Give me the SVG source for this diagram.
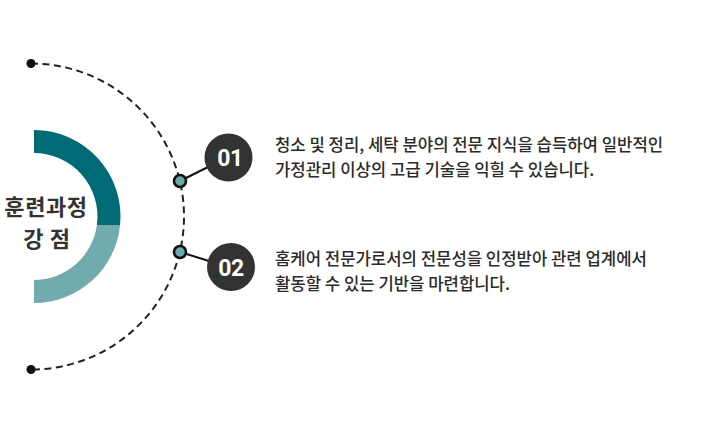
<svg xmlns="http://www.w3.org/2000/svg" width="704" height="428" viewBox="0 0 704 428">
<style>
.bg{fill:#ffffff}
.arc{fill:none;stroke:#222;stroke-width:2;stroke-dasharray:7 4.5}
.end{fill:#111}
.link{stroke:#111;stroke-width:2}
.pin{fill:#6aa9ab;stroke:#111;stroke-width:2.6}
.badge{fill:#333333}
.num{font-family:Roboto,"Liberation Sans",sans-serif;font-weight:700;font-size:23px;fill:#ffffff;text-anchor:middle;letter-spacing:-0.5px}
.title{font-family:"Noto Sans CJK KR","Noto Sans",sans-serif;font-weight:700;font-size:22px;fill:#333;text-anchor:middle;letter-spacing:0.6px}
.desc{font-family:"Noto Sans CJK KR","Noto Sans",sans-serif;font-weight:500;font-size:16.7px;fill:#2b2b2b}
</style>
<rect class="bg" x="0" y="0" width="704" height="428"/>
<g id="ring">
<path d="M34,130 A86.5,86.5 0 0 1 120.1,225 L96.9,225 A63.5,63.5 0 0 0 34,153 Z" fill="#006a77"/>
<path d="M120.1,225 A86.5,86.5 0 0 1 34,303 L34,280 A63.5,63.5 0 0 0 96.9,225 Z" fill="#72abad"/>
<text class="title" x="46" y="215">훈련과정</text>
<text class="title" x="47" y="247" xml:space="preserve">강 점</text>
</g>
<g id="connectors">
<path class="arc" d="M31,63.5 A153,153 0 0 1 31,369.5"/>
<circle class="end" cx="31" cy="63.5" r="4.5"/>
<circle class="end" cx="31" cy="369.5" r="4.5"/>
<line class="link" x1="180" y1="181" x2="208" y2="167"/>
<line class="link" x1="180" y1="252" x2="209" y2="261"/>
</g>
<g id="node-01">
<circle class="pin" cx="180" cy="181" r="6"/>
<circle class="badge" cx="228.5" cy="157.5" r="24"/>
<text class="num" x="230" y="166">01</text>
<text class="desc" x="275" y="151">청소 및 정리, 세탁 분야의 전문 지식을 습득하여 일반적인</text>
<text class="desc" x="275" y="176">가정관리 이상의 고급 기술을 익힐 수 있습니다.</text>
</g>
<g id="node-02">
<circle class="pin" cx="180" cy="252" r="6"/>
<circle class="badge" cx="231" cy="267" r="24"/>
<text class="num" x="231" y="275.5">02</text>
<text class="desc" x="275" y="265">홈케어 전문가로서의 전문성을 인정받아 관련 업계에서</text>
<text class="desc" x="275" y="290">활동할 수 있는 기반을 마련합니다.</text>
</g>
</svg>
